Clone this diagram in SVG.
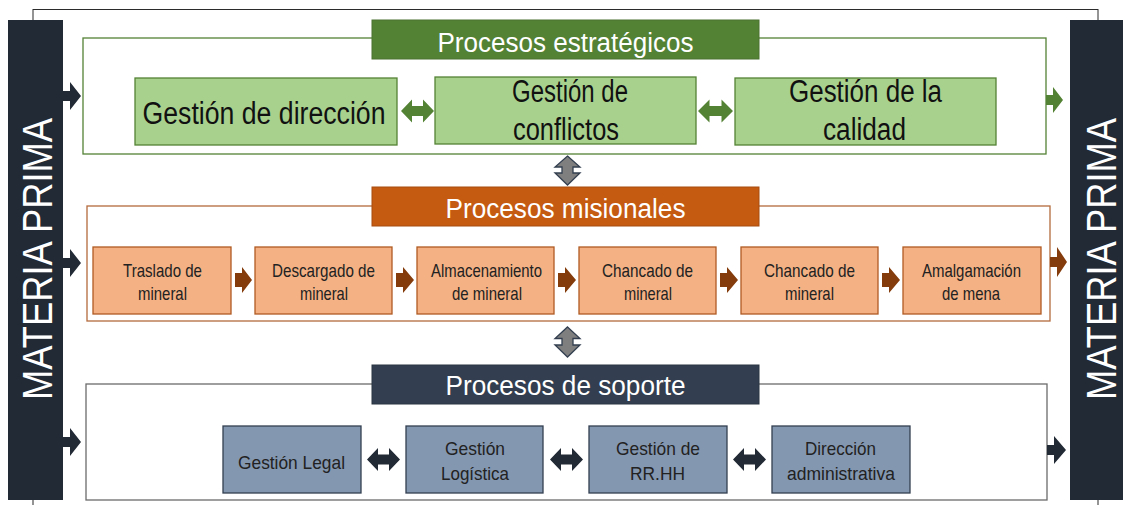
<svg xmlns="http://www.w3.org/2000/svg" width="1123" height="505" viewBox="0 0 1123 505">
<style>
text{font-family:"Liberation Sans",Arial,sans-serif;text-anchor:middle}
.frame{fill:none;stroke:#2b2b2b;stroke-width:1}
.bar{fill:#222a35}
.side{fill:#fff;font-size:43px}
.sec-e{fill:#fff;stroke:#548235;stroke-width:1.3}
.sec-m{fill:#fff;stroke:#b46a3c;stroke-width:1.3}
.sec-s{fill:#fff;stroke:#6b6b6b;stroke-width:1.3}
.t-e{fill:#548235;stroke:#4a7330;stroke-width:1}
.t-m{fill:#c55a11;stroke:#a84c10;stroke-width:1}
.t-s{fill:#333f50;stroke:#2a3442;stroke-width:1}
.ttl{fill:#fff;font-size:27px}
.g{fill:#a9d18e;stroke:#548235;stroke-width:1.3}
.o{fill:#f4b183;stroke:#b05a22;stroke-width:1.3}
.b{fill:#8497b0;stroke:#333f50;stroke-width:1.3}
.gt{fill:#111;font-size:31px}
.st{fill:#222;font-size:19px}
.ag{fill:#548235}
.ab{fill:#843c0c}
.ad{fill:#222a35}
.av{fill:#7f7f7f;stroke:#333f50;stroke-width:1.3}
</style>

<g id="frame">
<rect class="frame" x="33" y="9.5" width="1065" height="510"/>
</g>

<g id="materia-prima-left">
<rect class="bar" x="8" y="20" width="55" height="480"/>
<text class="side" transform="translate(52,259) rotate(-90)" textLength="282" lengthAdjust="spacingAndGlyphs">MATERIA PRIMA</text>
</g>
<g id="materia-prima-right">
<rect class="bar" x="1070" y="20" width="60" height="480"/>
<text class="side" transform="translate(1116,259) rotate(-90)" textLength="282" lengthAdjust="spacingAndGlyphs">MATERIA PRIMA</text>
</g>

<g id="procesos-estrategicos">
<rect class="sec-e" x="83" y="38" width="963" height="116"/>
<rect class="t-e" x="372" y="20" width="387" height="39"/>
<text class="ttl" x="565.5" y="51.5" textLength="256" lengthAdjust="spacingAndGlyphs">Procesos estratégicos</text>
</g>
<g id="gestion-direccion">
<rect class="g" x="135" y="78" width="262" height="67"/>
<text class="gt" x="264" y="124" textLength="243" lengthAdjust="spacingAndGlyphs">Gestión de dirección</text>
</g>
<g id="gestion-conflictos">
<rect class="g" x="435" y="77" width="261" height="67"/>
<text class="gt" x="570" y="101.5" textLength="116" lengthAdjust="spacingAndGlyphs">Gestión de</text>
<text class="gt" x="566" y="140" textLength="106" lengthAdjust="spacingAndGlyphs">conflictos</text>
</g>
<g id="gestion-calidad">
<rect class="g" x="735" y="78" width="261" height="67"/>
<text class="gt" x="865.5" y="101.5" textLength="153" lengthAdjust="spacingAndGlyphs">Gestión de la</text>
<text class="gt" x="864.5" y="140" textLength="83" lengthAdjust="spacingAndGlyphs">calidad</text>
</g>

<g id="procesos-misionales">
<rect class="sec-m" x="87" y="206" width="963" height="115"/>
<rect class="t-m" x="372" y="187" width="387" height="39"/>
<text class="ttl" x="565.5" y="217.5" textLength="240" lengthAdjust="spacingAndGlyphs">Procesos misionales</text>
</g>
<g id="traslado">
<rect class="o" x="93" y="247" width="138" height="67"/>
<text class="st" x="162.5" y="277" textLength="79" lengthAdjust="spacingAndGlyphs">Traslado de</text>
<text class="st" x="162.5" y="300" textLength="49" lengthAdjust="spacingAndGlyphs">mineral</text>
</g>
<g id="descargado">
<rect class="o" x="255" y="247" width="137" height="67"/>
<text class="st" x="323.5" y="277" textLength="103" lengthAdjust="spacingAndGlyphs">Descargado de</text>
<text class="st" x="324" y="300" textLength="48" lengthAdjust="spacingAndGlyphs">mineral</text>
</g>
<g id="almacenamiento">
<rect class="o" x="417" y="247" width="137" height="67"/>
<text class="st" x="486.5" y="277" textLength="111" lengthAdjust="spacingAndGlyphs">Almacenamiento</text>
<text class="st" x="487" y="300" textLength="70" lengthAdjust="spacingAndGlyphs">de mineral</text>
</g>
<g id="chancado-1">
<rect class="o" x="579" y="247" width="137" height="67"/>
<text class="st" x="647.5" y="277" textLength="91" lengthAdjust="spacingAndGlyphs">Chancado de</text>
<text class="st" x="648" y="300" textLength="48" lengthAdjust="spacingAndGlyphs">mineral</text>
</g>
<g id="chancado-2">
<rect class="o" x="741" y="247" width="137" height="67"/>
<text class="st" x="809.5" y="277" textLength="91" lengthAdjust="spacingAndGlyphs">Chancado de</text>
<text class="st" x="809.5" y="300" textLength="49" lengthAdjust="spacingAndGlyphs">mineral</text>
</g>
<g id="amalgamacion">
<rect class="o" x="903" y="247" width="138" height="67"/>
<text class="st" x="971.5" y="277" textLength="99" lengthAdjust="spacingAndGlyphs">Amalgamación</text>
<text class="st" x="971" y="300" textLength="58" lengthAdjust="spacingAndGlyphs">de mena</text>
</g>

<g id="procesos-soporte">
<rect class="sec-s" x="86" y="384" width="961" height="116"/>
<rect class="t-s" x="372" y="365" width="387" height="39"/>
<text class="ttl" x="565.5" y="394.5" textLength="240" lengthAdjust="spacingAndGlyphs">Procesos de soporte</text>
</g>
<g id="gestion-legal">
<rect class="b" x="223" y="426" width="138" height="67"/>
<text class="st" x="291.5" y="469" textLength="107" lengthAdjust="spacingAndGlyphs">Gestión Legal</text>
</g>
<g id="gestion-logistica">
<rect class="b" x="406" y="426" width="137" height="67"/>
<text class="st" x="475" y="455" textLength="60" lengthAdjust="spacingAndGlyphs">Gestión</text>
<text class="st" x="475" y="480" textLength="68" lengthAdjust="spacingAndGlyphs">Logística</text>
</g>
<g id="gestion-rrhh">
<rect class="b" x="589" y="426" width="138" height="67"/>
<text class="st" x="658" y="455" textLength="84" lengthAdjust="spacingAndGlyphs">Gestión de</text>
<text class="st" x="657.5" y="480" textLength="55" lengthAdjust="spacingAndGlyphs">RR.HH</text>
</g>
<g id="direccion-administrativa">
<rect class="b" x="772" y="426" width="138" height="67"/>
<text class="st" x="840.5" y="455" textLength="71" lengthAdjust="spacingAndGlyphs">Dirección</text>
<text class="st" x="841" y="480" textLength="108" lengthAdjust="spacingAndGlyphs">administrativa</text>
</g>

<g id="connectors">
<path class="ad" d="M63,91 L70,91 L70,82 L81,96 L70,110 L70,101 L63,101 Z"/>
<path class="ad" d="M63,258 L70,258 L70,249 L81,263 L70,277 L70,268 L63,268 Z"/>
<path class="ad" d="M63,437 L70,437 L70,428 L81,442 L70,456 L70,447 L63,447 Z"/>
<path class="ag" d="M1046,95 L1053,95 L1053,87 L1063,100 L1053,113 L1053,105 L1046,105 Z"/>
<path class="ab" d="M1050,257 L1057,257 L1057,247 L1067,262 L1057,277 L1057,267 L1050,267 Z"/>
<path class="ad" d="M1047,445 L1054,445 L1054,436 L1066,450 L1054,464 L1054,455 L1047,455 Z"/>
<path class="ag" d="M401,111 L412,99.5 L412,106 L423,106 L423,99.5 L434,111 L423,122.5 L423,116 L412,116 L412,122.5 Z"/>
<path class="ag" d="M698,111 L709.5,99.5 L709.5,106 L721.5,106 L721.5,99.5 L733,111 L721.5,122.5 L721.5,116 L709.5,116 L709.5,122.5 Z"/>
<path class="ab" d="M235,273 L242,273 L242,267 L252,280 L242,293 L242,287 L235,287 Z"/>
<path class="ab" d="M396,273 L403,273 L403,267 L414,280 L403,293 L403,287 L396,287 Z"/>
<path class="ab" d="M558,273 L565,273 L565,267 L576,280 L565,293 L565,287 L558,287 Z"/>
<path class="ab" d="M720,273 L727,273 L727,267 L738,280 L727,293 L727,287 L720,287 Z"/>
<path class="ab" d="M882,273 L889,273 L889,267 L900,280 L889,293 L889,287 L882,287 Z"/>
<path class="ad" d="M367,459.5 L378,448 L378,454.5 L389,454.5 L389,448 L400,459.5 L389,471 L389,464.5 L378,464.5 L378,471 Z"/>
<path class="ad" d="M550,459.5 L561,448 L561,454.5 L572,454.5 L572,448 L583,459.5 L572,471 L572,464.5 L561,464.5 L561,471 Z"/>
<path class="ad" d="M733,459.5 L744,448 L744,454.5 L755,454.5 L755,448 L766,459.5 L755,471 L755,464.5 L744,464.5 L744,471 Z"/>
<path class="av" d="M567.5,156 L580,167 L573,167 L573,173 L580,173 L567.5,185 L555,173 L562,173 L562,167 L555,167 Z"/>
<path class="av" d="M567.5,327 L580,338.5 L573,338.5 L573,345 L580,345 L567.5,357 L555,345 L562,345 L562,338.5 L555,338.5 Z"/>
</g>
</svg>
